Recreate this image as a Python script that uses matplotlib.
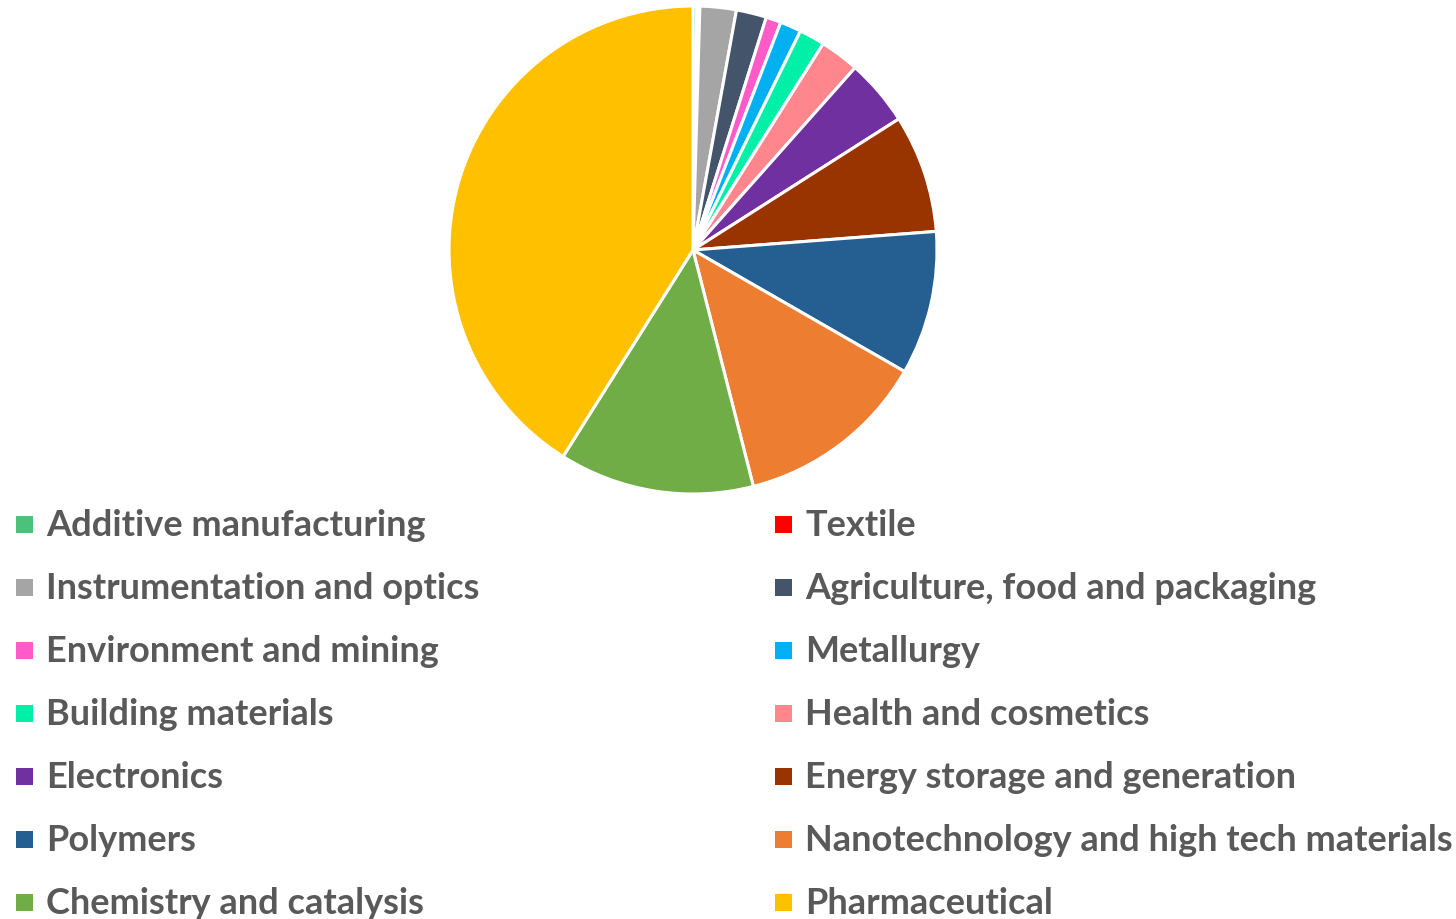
import matplotlib
matplotlib.use("Agg")
import matplotlib.pyplot as plt
from matplotlib.patches import Rectangle

categories = [
    "Additive manufacturing", "Textile",
    "Instrumentation and optics", "Agriculture, food and packaging",
    "Environment and mining", "Metallurgy",
    "Building materials", "Health and cosmetics",
    "Electronics", "Energy storage and generation",
    "Polymers", "Nanotechnology and high tech materials",
    "Chemistry and catalysis", "Pharmaceutical",
]
shares = [0.25, 0.2, 2.4, 2.0, 1.0, 1.4, 1.7, 2.6, 4.4, 7.8, 9.5, 12.7, 12.9, 41.0]
colors = [
    "#4CC17A", "#FF0000", "#A5A5A5", "#44546A", "#FF5BC8", "#00B0F0",
    "#00F0A8", "#FF868C", "#7030A0", "#993300", "#255E91", "#ED7D31",
    "#70AD47", "#FFC000",
]

W, H = 1456, 920
fig = plt.figure(figsize=(W / 100, H / 100), dpi=100)

# pie area
cx, cy, r = 693, 251, 244
ax = fig.add_axes([(cx - r) / W, (H - cy - r) / H, 2 * r / W, 2 * r / H])
ax.pie(shares, colors=colors, startangle=90, counterclock=False,
       wedgeprops=dict(edgecolor="white", linewidth=2.2), radius=1.0)
ax.set_xlim(-1, 1)
ax.set_ylim(-1, 1)
ax.set_aspect("equal")
ax.axis("off")

# legend, two columns, row-major order
col_x = [16, 775]
row_y0, row_dy = 525, 63
sq = 17
for i, (name, col) in enumerate(zip(categories, colors)):
    x = col_x[i % 2]
    y = row_y0 + row_dy * (i // 2)
    fig.patches.append(Rectangle((x / W, (H - y - sq / 2) / H), sq / W, sq / H,
                                 transform=fig.transFigure, facecolor=col,
                                 edgecolor="none"))
    fig.text((x + 30) / W, (H - y - 11) / H, name, fontsize=26, fontweight="bold",
             family="Lato", color="#595959", va="baseline", ha="left")

fig.savefig("out.png", dpi=100)
